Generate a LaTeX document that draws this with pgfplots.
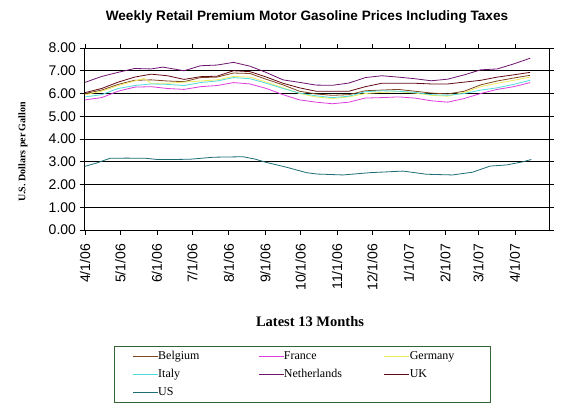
\documentclass[border=0pt]{standalone}
\usepackage{fontspec}
\setmainfont{Liberation Serif}
\newfontfamily\arial{Liberation Sans}
\usepackage{pgfplots}
\pgfplotsset{compat=1.18}
\definecolor{cBel}{RGB}{128,70,30}
\definecolor{cFra}{RGB}{220,60,220}
\definecolor{cGer}{RGB}{240,235,90}
\definecolor{cIta}{RGB}{80,220,220}
\definecolor{cNed}{RGB}{110,20,110}
\definecolor{cUK}{RGB}{100,10,20}
\definecolor{cUS}{RGB}{30,110,120}
\definecolor{lgreen}{RGB}{51,102,51}
\begin{document}
\begin{tikzpicture}
\useasboundingbox (0bp,0bp) rectangle (573bp,414bp);
\fill[white] (0bp,0bp) rectangle (573bp,414bp);
\node[font=\arial\bfseries\fontsize{13.6bp}{15bp}\selectfont] at (307bp,397bp) {Weekly Retail Premium Motor Gasoline Prices Including Taxes};
\node[rotate=90, font=\bfseries\fontsize{10bp}{12bp}\selectfont] at (23bp,262bp) {U.S. Dollars per Gallon};
\node[font=\bfseries\fontsize{14.5bp}{16bp}\selectfont] at (310bp,92bp) {Latest 13 Months};
\begin{axis}[
  at={(84bp,184bp)}, anchor=south west, scale only axis,
  width=465bp, height=182bp,
  xmin=-1, xmax=394, ymin=0, ymax=8,
  ytick={0,1,...,8},
  xtick={0,30,61,91,122,153,183,214,244,275,306,334,365},
  xticklabels={4/1/06,5/1/06,6/1/06,7/1/06,8/1/06,9/1/06,10/1/06,11/1/06,12/1/06,1/1/07,2/1/07,3/1/07,4/1/07},
  tick align=outside, major tick length=4.5bp,
  tick style={black, line width=0.7bp},
  axis line style={black, line width=0.8bp},
  ymajorgrids, grid style={black, line width=0.8bp},
  /pgf/number format/assume math mode=true,
  yticklabel style={font=\arial\fontsize{14bp}{16bp}\selectfont, /pgf/number format/.cd, fixed, fixed zerofill, precision=2},
  xticklabel style={font=\arial\fontsize{14bp}{16bp}\selectfont, rotate=90, anchor=east},
  xticklabel shift={6bp},
  legend columns=3,
  legend image code/.code={\draw[#1] (0bp,0bp) -- (25bp,0bp);},
  legend style={at={(0.0645,-0.637)}, anchor=north west, draw=lgreen, line width=0.8bp, fill=white,
    font=\fontsize{12bp}{13bp}\selectfont, inner xsep=18bp, inner ysep=1bp,
    nodes={inner xsep=0pt, inner ysep=3.75bp, text height=8bp, text depth=2.5bp, anchor=west},
    /tikz/every even column/.append style={column sep=0pt}},
  every axis plot/.append style={line width=0.8bp},
]
% Belgium
\addplot[cBel] coordinates {(0,6.00)(14,6.15)(28,6.40)(42,6.58)(56,6.60)(70,6.55)(84,6.52)(98,6.70)(112,6.72)(126,6.90)(140,6.88)(154,6.62)(168,6.38)(182,6.10)(196,5.98)(210,5.92)(224,5.95)(238,6.12)(252,6.15)(266,6.18)(280,6.10)(294,6.02)(308,5.98)(322,6.10)(336,6.38)(350,6.55)(364,6.68)(378,6.80)};
\addlegendentry{\makebox[100bp][l]{Belgium}}
% France
\addplot[cFra] coordinates {(0,5.72)(14,5.82)(28,6.10)(42,6.28)(56,6.30)(70,6.22)(84,6.18)(98,6.30)(112,6.35)(126,6.48)(140,6.42)(154,6.22)(168,5.95)(182,5.72)(196,5.62)(210,5.55)(224,5.62)(238,5.80)(252,5.82)(266,5.85)(280,5.80)(294,5.68)(308,5.62)(322,5.78)(336,6.00)(350,6.18)(364,6.30)(378,6.48)};
\addlegendentry{\makebox[100bp][l]{France}}
% Germany
\addplot[cGer] coordinates {(0,5.95)(14,6.10)(28,6.35)(42,6.55)(50,6.66)(56,6.45)(70,6.45)(84,6.50)(98,6.55)(112,6.60)(126,6.75)(140,6.72)(154,6.50)(168,6.25)(182,6.00)(196,5.85)(210,5.78)(224,5.85)(238,6.00)(252,6.05)(266,6.08)(280,6.02)(294,5.92)(308,5.88)(322,6.05)(336,6.30)(350,6.45)(364,6.58)(378,6.72)};
\addlegendentry{\makebox[63bp][l]{Germany}}
% Italy
\addplot[cIta] coordinates {(0,5.85)(14,5.95)(28,6.22)(42,6.35)(56,6.42)(70,6.40)(84,6.35)(98,6.48)(112,6.55)(126,6.70)(140,6.65)(154,6.45)(168,6.22)(182,6.02)(196,5.90)(210,5.82)(224,5.88)(238,6.08)(252,6.12)(266,6.10)(280,6.05)(294,5.95)(308,5.92)(322,6.00)(336,6.15)(350,6.25)(364,6.40)(378,6.58)};
\addlegendentry{\makebox[100bp][l]{Italy}}
% Netherlands
\addplot[cNed] coordinates {(0,6.49)(14,6.75)(28,6.93)(42,7.10)(56,7.08)(66,7.16)(84,7.00)(98,7.22)(112,7.25)(126,7.37)(140,7.20)(154,6.92)(168,6.60)(182,6.49)(196,6.37)(210,6.36)(224,6.46)(238,6.70)(252,6.78)(266,6.72)(280,6.65)(294,6.56)(308,6.63)(322,6.82)(336,7.04)(350,7.08)(364,7.30)(378,7.55)};
\addlegendentry{\makebox[100bp][l]{Netherlands}}
% UK
\addplot[cUK] coordinates {(0,6.04)(14,6.22)(28,6.50)(42,6.72)(56,6.85)(70,6.78)(84,6.62)(98,6.74)(112,6.76)(126,7.00)(140,6.96)(154,6.72)(168,6.45)(182,6.25)(196,6.10)(210,6.10)(224,6.10)(238,6.30)(252,6.45)(266,6.45)(280,6.45)(294,6.42)(308,6.42)(322,6.50)(336,6.58)(350,6.72)(364,6.82)(378,6.93)};
\addlegendentry{\makebox[63bp][l]{UK}}
% US
\addplot[cUS] coordinates {(0,2.80)(10,2.95)(21,3.15)(35,3.16)(52,3.15)(61,3.10)(75,3.10)(89,3.11)(109,3.20)(134,3.22)(144,3.12)(154,2.97)(171,2.76)(188,2.52)(197,2.46)(219,2.42)(242,2.52)(270,2.59)(290,2.45)(312,2.42)(329,2.54)(344,2.81)(358,2.86)(372,3.00)(379,3.10)};
\addlegendentry{\makebox[100bp][l]{US}}
\end{axis}
\end{tikzpicture}
\end{document}
